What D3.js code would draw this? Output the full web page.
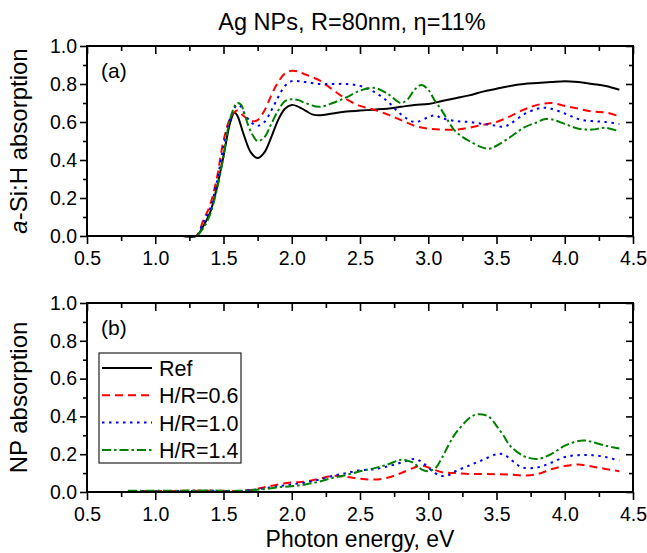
<!DOCTYPE html>
<meta charset="utf-8">
<title>Ag NPs absorption</title>
<style>
  body { margin: 0; background: #fff; }
  svg text { font-family: Arial, "Liberation Sans", sans-serif; fill: #000; }
  .tick text { font-size: 19.5px; }
  .tick line { stroke: #000; stroke-width: 1.6px; }
  .frame { fill: none; stroke: #000; stroke-width: 2px; }
</style>
<script src="https://d3js.org/d3.v7.min.js"></script>
<div id="chart"></div>
<script>
// ---- data (energy in eV, absorption 0..1) ----
var xTicks = [0.5, 1.0, 1.5, 2.0, 2.5, 3.0, 3.5, 4.0, 4.5];
var yTicks = [0.0, 0.2, 0.4, 0.6, 0.8, 1.0];
var legendNames = ["Ref", "H/R=0.6", "H/R=1.0", "H/R=1.4"];

// panel (a): a-Si:H absorption
var refA = [[0.8,0],[1.0,0],[1.2,0],[1.3,0],[1.35,0.05],[1.4,0.12],[1.45,0.25],[1.5,0.42],[1.55,0.6],[1.58,0.65],
  [1.6,0.635],[1.65,0.53],[1.7,0.44],[1.75,0.41],[1.8,0.44],[1.85,0.52],[1.9,0.61],[1.95,0.67],[2.0,0.69],
  [2.05,0.68],[2.1,0.66],[2.15,0.64],[2.2,0.635],[2.3,0.645],[2.4,0.655],[2.5,0.66],[2.6,0.665],[2.7,0.67],
  [2.8,0.68],[2.9,0.69],[3.0,0.695],[3.1,0.71],[3.2,0.725],[3.3,0.74],[3.4,0.76],[3.5,0.775],[3.6,0.79],
  [3.7,0.80],[3.8,0.805],[3.9,0.81],[4.0,0.815],[4.1,0.81],[4.2,0.80],[4.3,0.79],[4.4,0.77]];
var hr06A = [[0.8,0],[1.0,0],[1.2,0],[1.3,0],[1.35,0.08],[1.4,0.16],[1.45,0.3],[1.5,0.5],[1.55,0.62],[1.6,0.66],
  [1.65,0.63],[1.7,0.605],[1.75,0.61],[1.8,0.66],[1.85,0.74],[1.9,0.81],[1.95,0.855],[2.0,0.87],[2.05,0.865],
  [2.1,0.85],[2.2,0.82],[2.3,0.77],[2.4,0.72],[2.5,0.685],[2.6,0.665],[2.7,0.64],[2.8,0.61],[2.9,0.58],
  [3.0,0.565],[3.1,0.56],[3.2,0.56],[3.3,0.57],[3.4,0.585],[3.5,0.60],[3.6,0.63],[3.7,0.665],[3.8,0.69],
  [3.9,0.70],[4.0,0.685],[4.1,0.67],[4.2,0.655],[4.3,0.65],[4.4,0.63]];
var hr10A = [[0.8,0],[1.0,0],[1.2,0],[1.3,0],[1.35,0.07],[1.4,0.14],[1.45,0.28],[1.5,0.47],[1.55,0.62],[1.6,0.69],
  [1.63,0.68],[1.65,0.65],[1.7,0.60],[1.75,0.58],[1.8,0.60],[1.85,0.66],[1.9,0.73],[1.95,0.79],[2.0,0.815],
  [2.05,0.815],[2.1,0.81],[2.2,0.80],[2.3,0.80],[2.4,0.80],[2.5,0.79],[2.6,0.76],[2.7,0.71],[2.8,0.64],
  [2.9,0.60],[3.0,0.625],[3.05,0.635],[3.1,0.62],[3.2,0.605],[3.3,0.60],[3.4,0.59],[3.5,0.58],[3.55,0.575],
  [3.6,0.59],[3.7,0.64],[3.8,0.67],[3.85,0.675],[3.9,0.67],[4.0,0.645],[4.1,0.615],[4.2,0.605],[4.3,0.60],[4.4,0.59]];
var hr14A = [[0.8,0],[1.0,0],[1.2,0],[1.3,0],[1.35,0.04],[1.4,0.11],[1.45,0.24],[1.5,0.42],[1.55,0.62],[1.6,0.70],
  [1.63,0.69],[1.65,0.65],[1.7,0.55],[1.75,0.50],[1.8,0.52],[1.85,0.59],[1.9,0.66],[1.95,0.71],[2.0,0.72],
  [2.05,0.715],[2.1,0.70],[2.2,0.68],[2.3,0.70],[2.4,0.73],[2.5,0.765],[2.6,0.78],[2.7,0.75],[2.8,0.70],
  [2.85,0.72],[2.9,0.77],[2.95,0.795],[3.0,0.77],[3.05,0.71],[3.1,0.66],[3.15,0.60],[3.2,0.55],[3.3,0.50],
  [3.4,0.465],[3.45,0.46],[3.5,0.475],[3.6,0.52],[3.7,0.57],[3.8,0.60],[3.85,0.615],[3.9,0.615],[4.0,0.59],
  [4.1,0.565],[4.2,0.56],[4.3,0.57],[4.4,0.55]];

// panel (b): NP absorption
var hr06B = [[0.8,0.005],[1.0,0.005],[1.2,0.006],[1.4,0.007],[1.6,0.005],[1.7,0.01],[1.8,0.025],[1.9,0.04],
  [2.0,0.05],[2.1,0.055],[2.2,0.07],[2.3,0.085],[2.4,0.08],[2.5,0.07],[2.6,0.066],[2.7,0.075],[2.8,0.10],
  [2.9,0.13],[2.95,0.14],[3.0,0.13],[3.1,0.105],[3.2,0.10],[3.3,0.095],[3.4,0.095],[3.5,0.094],[3.6,0.092],
  [3.7,0.087],[3.8,0.095],[3.9,0.12],[4.0,0.137],[4.1,0.145],[4.2,0.135],[4.3,0.122],[4.4,0.11]];
var hr10B = [[0.8,0.004],[1.0,0.004],[1.2,0.005],[1.4,0.006],[1.6,0.005],[1.7,0.01],[1.8,0.02],[1.9,0.03],
  [2.0,0.04],[2.1,0.05],[2.2,0.065],[2.3,0.085],[2.4,0.10],[2.5,0.115],[2.6,0.12],[2.7,0.135],[2.8,0.155],
  [2.9,0.175],[2.95,0.16],[3.0,0.13],[3.05,0.10],[3.1,0.085],[3.15,0.09],[3.2,0.11],[3.3,0.14],[3.4,0.17],
  [3.5,0.20],[3.55,0.20],[3.6,0.175],[3.65,0.145],[3.7,0.128],[3.8,0.13],[3.9,0.155],[4.0,0.185],[4.1,0.195],
  [4.2,0.195],[4.3,0.185],[4.4,0.165]];
var hr14B = [[0.8,0.007],[1.0,0.006],[1.2,0.007],[1.4,0.008],[1.6,0.006],[1.7,0.01],[1.8,0.015],[1.9,0.025],
  [2.0,0.03],[2.1,0.04],[2.2,0.055],[2.3,0.075],[2.4,0.09],[2.5,0.11],[2.6,0.125],[2.7,0.145],[2.8,0.17],
  [2.85,0.165],[2.9,0.15],[2.95,0.12],[3.0,0.11],[3.05,0.125],[3.1,0.18],[3.15,0.25],[3.2,0.31],[3.3,0.39],
  [3.35,0.41],[3.4,0.41],[3.45,0.395],[3.5,0.35],[3.55,0.30],[3.6,0.245],[3.7,0.19],[3.8,0.175],[3.9,0.2],
  [4.0,0.245],[4.1,0.27],[4.15,0.272],[4.2,0.265],[4.3,0.245],[4.4,0.23]];

// line styles for Ref, 0.6, 1.0, 1.4
var colors = ["#000000", "#ff0000", "#0000ff", "#008000"];
var dashes = [null, "8,5", "2.5,4.5", "9,3,2.5,3"];

var W = 647, H = 553;
var left = 87, right = 633;
var panels = [{top: 46, bottom: 236}, {top: 303, bottom: 492}];

var svg = d3.select("#chart").append("svg")
    .attr("width", W)
    .attr("height", H);

var x = d3.scaleLinear().domain([0.5, 4.5]).range([left, right]);
var minorX = d3.range(0.75, 4.5, 0.5);
var minorY = d3.range(0.1, 1.0, 0.2);

function drawPanel(p, seriesList, idxList, ylabel, tag) {
  var y = d3.scaleLinear().domain([0, 1]).range([p.bottom, p.top]);

  // bottom axis, ticks outward
  svg.append("g")
    .attr("transform", "translate(0," + p.bottom + ")")
    .call(d3.axisBottom(x).tickValues(xTicks).tickSize(8).tickPadding(7).tickFormat(d3.format(".1f")))
    .call(function(g) { g.select(".domain").remove(); });
  svg.append("g")
    .attr("transform", "translate(0," + p.bottom + ")")
    .call(d3.axisBottom(x).tickValues(minorX).tickSize(5).tickFormat(""))
    .call(function(g) { g.select(".domain").remove(); });
  // top axis, ticks inward
  svg.append("g")
    .attr("transform", "translate(0," + p.top + ")")
    .call(d3.axisTop(x).tickValues(xTicks).tickSize(-8).tickFormat(""))
    .call(function(g) { g.select(".domain").remove(); });
  svg.append("g")
    .attr("transform", "translate(0," + p.top + ")")
    .call(d3.axisTop(x).tickValues(minorX).tickSize(-5).tickFormat(""))
    .call(function(g) { g.select(".domain").remove(); });
  // left axis
  svg.append("g")
    .attr("transform", "translate(" + left + ",0)")
    .call(d3.axisLeft(y).tickValues(yTicks).tickSize(7).tickPadding(3).tickFormat(d3.format(".1f")))
    .call(function(g) { g.select(".domain").remove(); });
  svg.append("g")
    .attr("transform", "translate(" + left + ",0)")
    .call(d3.axisLeft(y).tickValues(minorY).tickSize(4).tickFormat(""))
    .call(function(g) { g.select(".domain").remove(); });
  // right axis, inward
  svg.append("g")
    .attr("transform", "translate(" + right + ",0)")
    .call(d3.axisRight(y).tickValues(yTicks).tickSize(-7).tickFormat(""))
    .call(function(g) { g.select(".domain").remove(); });
  svg.append("g")
    .attr("transform", "translate(" + right + ",0)")
    .call(d3.axisRight(y).tickValues(minorY).tickSize(-4).tickFormat(""))
    .call(function(g) { g.select(".domain").remove(); });

  var line = d3.line()
    .x(function(d) { return x(d[0]); })
    .y(function(d) { return y(d[1]); })
    .curve(d3.curveCatmullRom.alpha(0.5));

  seriesList.forEach(function(s, i) {
    var k = idxList[i];
    svg.append("path")
      .datum(s)
      .attr("d", line)
      .attr("fill", "none")
      .attr("stroke", colors[k])
      .attr("stroke-width", 2)
      .attr("stroke-dasharray", dashes[k]);
  });

  svg.append("rect")
    .attr("class", "frame")
    .attr("x", left).attr("y", p.top)
    .attr("width", right - left).attr("height", p.bottom - p.top);

  var yl = svg.append("text")
    .attr("transform", "translate(27," + (p.top + p.bottom) / 2 + ") rotate(-90)")
    .attr("text-anchor", "middle")
    .style("font-size", "24px");
  ylabel(yl);

  svg.append("text")
    .attr("x", 101).attr("y", p.top + 32)
    .style("font-size", "21px")
    .text(tag);
}

drawPanel(panels[0], [refA, hr06A, hr10A, hr14A], [0, 1, 2, 3], function(t) {
  t.append("tspan").style("font-style", "italic").text("a");
  t.append("tspan").text("-Si:H absorption");
}, "(a)");

drawPanel(panels[1], [hr06B, hr10B, hr14B], [1, 2, 3], function(t) {
  t.text("NP absorption");
}, "(b)");

// title
svg.append("text")
  .attr("x", 352).attr("y", 30)
  .attr("text-anchor", "middle")
  .style("font-size", "23.5px")
  .text("Ag NPs, R=80nm, \u03b7=11%");

// x axis title
svg.append("text")
  .attr("x", (left + right) / 2).attr("y", 547)
  .attr("text-anchor", "middle")
  .style("font-size", "23px")
  .text("Photon energy, eV");

// legend in panel (b)
var lg = svg.append("g");
lg.append("rect")
  .attr("x", 99).attr("y", 353)
  .attr("width", 142).attr("height", 110)
  .attr("fill", "#fff")
  .attr("stroke", "#222")
  .attr("stroke-width", 1.2);
legendNames.forEach(function(name, i) {
  var cy = 368 + i * 27.3;
  lg.append("line")
    .attr("x1", 102).attr("x2", 152)
    .attr("y1", cy).attr("y2", cy)
    .attr("stroke", colors[i])
    .attr("stroke-width", 2)
    .attr("stroke-dasharray", dashes[i]);
  lg.append("text")
    .attr("x", 159).attr("y", cy + 8)
    .style("font-size", "21.5px")
    .text(name);
});
</script>
